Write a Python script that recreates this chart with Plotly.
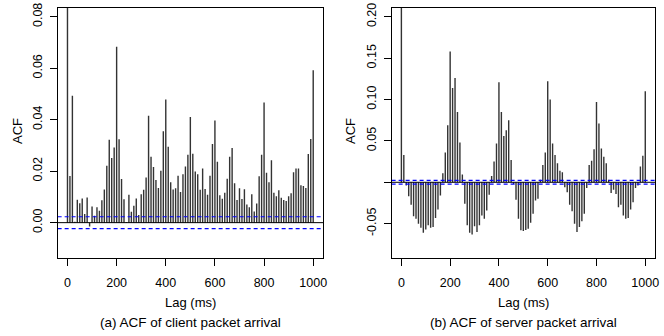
import plotly.graph_objects as go

lags = [10 * k for k in range(101)]

client_acf = [1.0, 0.0181, 0.0493, 0.0004, 0.0089, 0.0075, 0.0094, 0.0034, 0.0098, -0.0015,
              0.0063, 0.0027, 0.0060, 0.0046, 0.0087, 0.0129, 0.0221, 0.0322, 0.0251, 0.0292,
              0.0683, 0.0324, 0.0170, 0.0091, 0.0003, 0.0108, 0.0042, 0.0066, 0.0094, 0.0030,
              0.0110, 0.0128, 0.0175, 0.0415, 0.0256, 0.0216, 0.0166, 0.0135, 0.0202, 0.0355,
              0.0478, 0.0295, 0.0157, 0.0129, 0.0134, 0.0182, 0.0119, 0.0188, 0.0218, 0.0264,
              0.0410, 0.0268, 0.0199, 0.0188, 0.0128, 0.0210, 0.0131, 0.0108, 0.0182, 0.0306,
              0.0397, 0.0237, 0.0106, 0.0093, 0.0116, 0.0171, 0.0256, 0.0290, 0.0153, 0.0088,
              0.0134, 0.0092, 0.0130, 0.0071, 0.0060, 0.0110, 0.0043, 0.0074, 0.0180, 0.0264,
              0.0467, 0.0194, 0.0157, 0.0242, 0.0116, 0.0103, 0.0126, 0.0097, 0.0088, 0.0084,
              0.0103, 0.0114, 0.0196, 0.0210, 0.0210, 0.0145, 0.0142, 0.0135, 0.0267, 0.0325,
              0.0592]

server_acf = [1.0, 0.033, -0.004, -0.017, -0.027, -0.041, -0.044, -0.050, -0.055, -0.061,
              -0.057, -0.052, -0.055, -0.054, -0.043, -0.033, -0.016, 0.011, 0.036, 0.069,
              0.158, 0.114, 0.126, 0.085, 0.048, 0.0095, -0.026, -0.052, -0.061, -0.063,
              -0.053, -0.060, -0.052, -0.040, -0.044, -0.034, -0.015, 0.0075, 0.025, 0.047,
              0.121, 0.085, 0.056, 0.063, 0.075, 0.027, -0.002, -0.021, -0.044, -0.058,
              -0.059, -0.0575, -0.056, -0.049, -0.038, -0.022, -0.020, 0.003, 0.021, 0.036,
              0.122, 0.100, 0.047, 0.033, 0.023, 0.014, 0.012, -0.006, -0.012, -0.027,
              -0.035, -0.050, -0.060, -0.054, -0.047, -0.038, -0.007, 0.021, 0.026, 0.040,
              0.097, 0.071, 0.041, 0.031, 0.023, 0.003, -0.013, -0.009, -0.014, -0.030,
              -0.027, -0.040, -0.044, -0.043, -0.033, -0.024, -0.007, -0.004, 0.019, 0.032,
              0.110]

ci_level = 0.0023

client_yticks = [0.00, 0.02, 0.04, 0.06, 0.08]
client_yticktext = ["0.00", "0.02", "0.04", "0.06", "0.08"]
server_yticks = [-0.05, 0.00, 0.05, 0.10, 0.15, 0.20]
server_yticktext = ["-0.05", "", "0.05", "0.10", "0.15", "0.20"]
x_ticks = [0, 200, 400, 600, 800, 1000]

captions = ["(a) ACF of client packet arrival", "(b) ACF of server packet arrival"]
x_title = "Lag (ms)"
y_title = "ACF"

W, H = 664, 336
FONT = "Liberation Sans, Arial, Helvetica, sans-serif"


def stems(xs, ys):
    sx, sy = [], []
    for xv, yv in zip(xs, ys):
        sx += [xv, xv, None]
        sy += [0, yv, None]
    return sx, sy


fig = go.Figure()

panels = [
    dict(vals=client_acf, xa="x", ya="y", box=(58, 325), yr=(-0.0138, 0.0834),
         yt=client_yticks, ytt=client_yticktext, ytitle_x=17),
    dict(vals=server_acf, xa="x2", ya="y2", box=(394, 659), yr=(-0.0917, 0.2107),
         yt=server_yticks, ytt=server_yticktext, ytitle_x=352),
]

XR = [-40, 1040]
top_px, bot_px = 3, 257
ydom = [1 - bot_px / H, 1 - top_px / H]

layout_axes = {}
annotations = []
for i, p in enumerate(panels):
    sx, sy = stems(lags, p["vals"])
    fig.add_trace(go.Scatter(x=sx, y=sy, mode="lines", xaxis=p["xa"], yaxis=p["ya"],
                             line=dict(color="#333333", width=1.4), hoverinfo="skip",
                             showlegend=False))
    fig.add_trace(go.Scatter(x=XR, y=[0, 0], mode="lines", xaxis=p["xa"], yaxis=p["ya"],
                             line=dict(color="black", width=1), showlegend=False))
    for s in (1, -1):
        fig.add_trace(go.Scatter(x=XR, y=[s * ci_level, s * ci_level], mode="lines",
                                 xaxis=p["xa"], yaxis=p["ya"],
                                 line=dict(color="#0000ff", width=1.2, dash="4px,3px"),
                                 showlegend=False))
    xkey = "xaxis" if i == 0 else "xaxis2"
    ykey = "yaxis" if i == 0 else "yaxis2"
    l, r = p["box"]
    layout_axes[xkey] = dict(domain=[l / W, r / W], range=XR, anchor=p["ya"],
                             tickvals=x_ticks, ticks="outside", ticklen=7, tickcolor="black",
                             ticklabelstandoff=6, ticklabeloverflow="allow",
                             showline=True, linecolor="black", linewidth=1, mirror=True,
                             showgrid=False, zeroline=False,
                             tickfont=dict(family=FONT, size=12.5, color="black"))
    layout_axes[ykey] = dict(domain=ydom, range=list(p["yr"]), anchor=p["xa"],
                             tickvals=p["yt"], ticktext=p["ytt"], tickangle=-90,
                             ticks="outside", ticklen=7, tickcolor="black",
                             ticklabelstandoff=3, ticklabeloverflow="allow",
                             showline=True, linecolor="black", linewidth=1, mirror=True,
                             showgrid=False, zeroline=False,
                             tickfont=dict(family=FONT, size=12.5, color="black"))
    cx = (l + r) / 2
    annotations.append(dict(text=x_title, x=cx / W, y=1 - 302 / H, xref="paper", yref="paper",
                            showarrow=False, xanchor="center", yanchor="middle",
                            font=dict(family=FONT, size=13, color="black")))
    annotations.append(dict(text=captions[i], x=cx / W, y=1 - 322 / H, xref="paper", yref="paper",
                            showarrow=False, xanchor="center", yanchor="middle",
                            font=dict(family=FONT, size=13.5, color="black")))
    annotations.append(dict(text=y_title, x=p["ytitle_x"] / W, y=1 - 128 / H, xref="paper",
                            yref="paper", showarrow=False, textangle=-90,
                            xanchor="center", yanchor="middle",
                            font=dict(family=FONT, size=13, color="black")))

fig.update_layout(width=W, height=H, margin=dict(l=0, r=0, t=0, b=0),
                  paper_bgcolor="white", plot_bgcolor="white",
                  annotations=annotations, **layout_axes)

fig.write_html("out.html")
